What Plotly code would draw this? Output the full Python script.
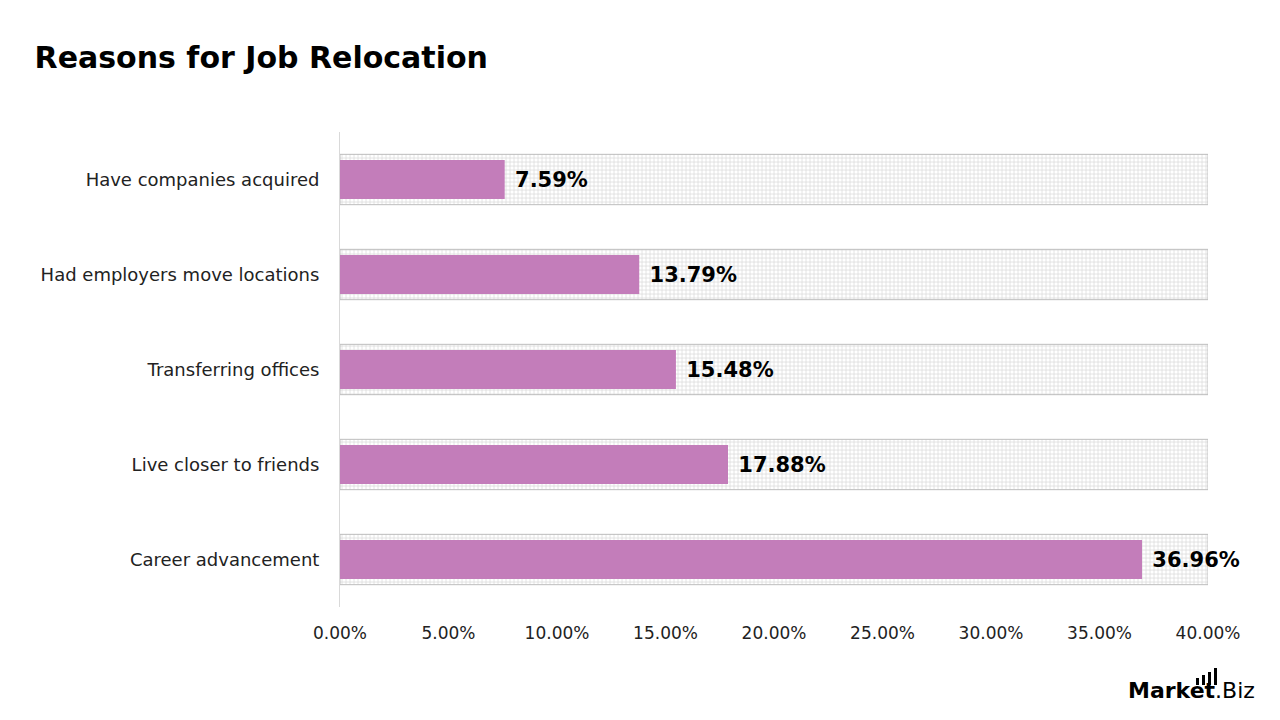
import plotly.graph_objects as go

categories = ["Career advancement", "Live closer to friends", "Transferring offices",
              "Had employers move locations", "Have companies acquired"]
values = [36.96, 17.88, 15.48, 13.79, 7.59]
full_scale = [40, 40, 40, 40, 40]
tick_vals = [0, 5, 10, 15, 20, 25, 30, 35, 40]
tick_text = ["0.00%", "5.00%", "10.00%", "15.00%", "20.00%", "25.00%", "30.00%", "35.00%", "40.00%"]

FONT = "DejaVu Sans"

fig = go.Figure()
fig.add_trace(go.Bar(
    y=categories, x=full_scale, orientation="h", width=0.53,
    marker=dict(color="white", line=dict(color="#bdbdbd", width=1),
                pattern=dict(shape="+", fgcolor="#b8b8b8", bgcolor="white", size=4, solidity=0.35)),
    hoverinfo="skip", showlegend=False,
))
fig.add_trace(go.Bar(
    y=categories, x=values, orientation="h", width=0.41,
    marker=dict(color="#c37dba", line=dict(width=0)),
    text=[f" {v:.2f}%" for v in values], textposition="outside",
    textfont=dict(family=FONT, size=21, color="black", weight="bold"),
    cliponaxis=False, showlegend=False,
))

fig.update_layout(
    width=1280, height=720, barmode="overlay",
    paper_bgcolor="white", plot_bgcolor="white",
    margin=dict(l=340, r=72, t=132, b=113),
    font=dict(family=FONT, size=18, color="#222"),
    title=dict(text="<b>Reasons for Job Relocation</b>", x=0.027, xanchor="left",
               y=0.92, yanchor="middle", font=dict(family=FONT, size=30, color="black")),
    xaxis=dict(range=[0, 40], tickvals=tick_vals, ticktext=tick_text, showgrid=False,
               zeroline=False, showline=False, ticks="", ticklabelstandoff=14,
               tickfont=dict(size=17, color="#222")),
    yaxis=dict(categoryorder="array", categoryarray=categories, showgrid=False,
               showline=True, linecolor="#d9d9d9", linewidth=1, ticks="",
               ticklabelstandoff=16, tickfont=dict(size=18, color="#222")),
)

fig.add_annotation(xref="paper", yref="paper", x=1.057, y=-0.175, xanchor="right", yanchor="middle",
                   text="<b>Market</b>.Biz", showarrow=False,
                   font=dict(family=FONT, size=22, color="black"))
for i, h in enumerate([7, 10, 13, 17]):
    x0 = 1196 + i * 6
    fig.add_shape(type="rect", xref="paper", yref="paper",
                  x0=(x0 - 340) / 868, x1=(x0 + 3 - 340) / 868,
                  y0=(720 - 113 - 685) / 475, y1=(720 - 113 - 685 + h) / 475,
                  fillcolor="black", line=dict(width=0))

fig.write_html("out.html")
